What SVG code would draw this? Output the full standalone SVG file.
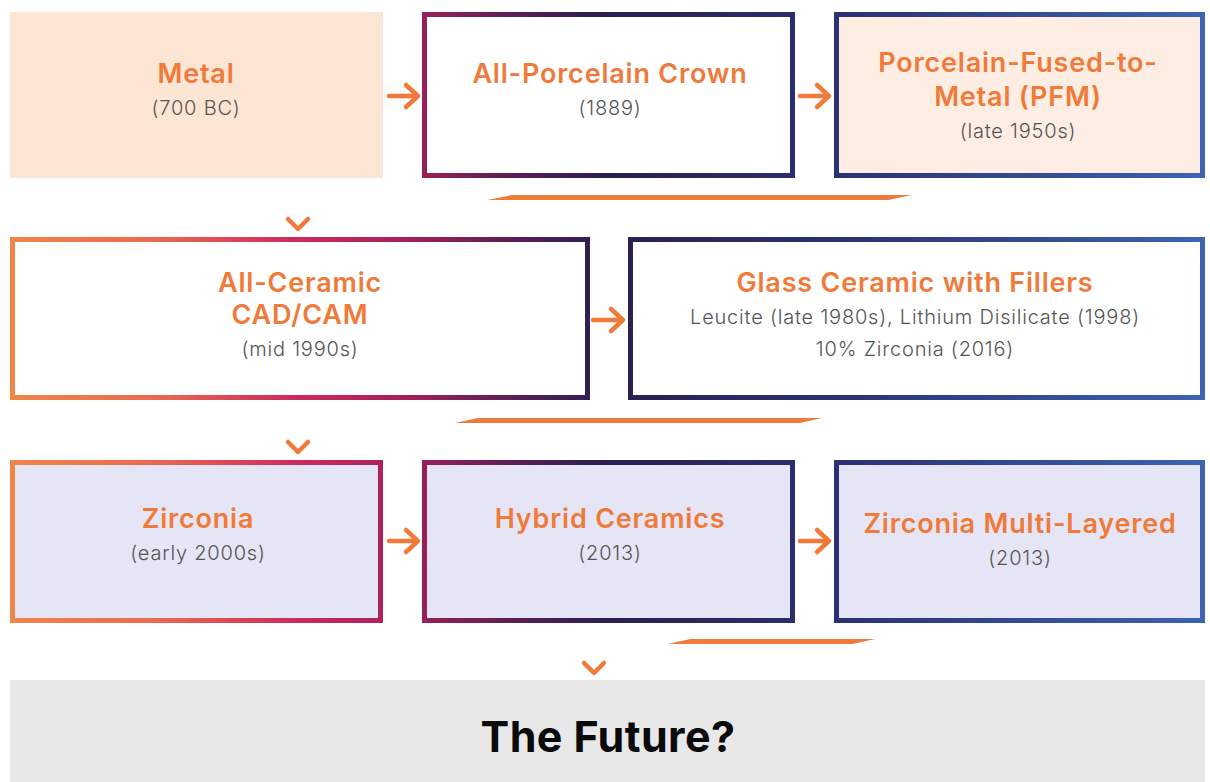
<svg xmlns="http://www.w3.org/2000/svg" width="1210" height="782" viewBox="0 0 1210 782">
<defs>
<linearGradient id="bg" gradientUnits="userSpaceOnUse" x1="10" y1="0" x2="1205" y2="0">
<stop offset="0" stop-color="#f08549"/>
<stop offset="0.12" stop-color="#ea6a50"/>
<stop offset="0.24" stop-color="#cc2a5e"/>
<stop offset="0.33" stop-color="#a6205a"/>
<stop offset="0.42" stop-color="#5a1f55"/>
<stop offset="0.5" stop-color="#2a1f50"/>
<stop offset="0.7" stop-color="#2b3275"/>
<stop offset="1" stop-color="#3d63b2"/>
</linearGradient>
</defs>
<style>
.box{stroke:url(#bg);stroke-width:5}
.t{font-family:Inter,"Noto Sans",sans-serif;font-size:27px;font-weight:600;fill:#f07a3a;text-anchor:middle;letter-spacing:0.8px}
.s{font-family:Inter,"Noto Sans",sans-serif;font-size:20px;font-weight:300;fill:#555555;text-anchor:middle;letter-spacing:0.8px}
.arr{fill:none;stroke:#f07a3a;stroke-width:4.5;stroke-linecap:round;stroke-linejoin:round}
.bar{fill:#f07a3a}
</style>
<rect width="1210" height="782" fill="#ffffff"/>
<g id="connectors">
<path class="arr" d="M389,96 L417,96 M406,85 L418,96 L406,107"/>
<path class="arr" d="M800,96 L828,96 M817,85 L829,96 L817,107"/>
<path class="arr" d="M593,320 L622,320 M611,309 L623,320 L611,331"/>
<path class="arr" d="M389,541 L417,541 M406,530 L418,541 L406,552"/>
<path class="arr" d="M800,541 L828,541 M817,530 L829,541 L817,552"/>
<polygon class="bar" points="487,200 512,195 912,195 888,200"/>
<polygon class="bar" points="455,423 478,418 822,418 800,423"/>
<polygon class="bar" points="668,644 690,639 875,639 853,644"/>
<path class="arr" d="M288,219 L298,229 L308,219"/>
<path class="arr" d="M288,442 L298,452 L308,442"/>
<path class="arr" d="M584,663 L594,673 L604,663"/>
</g>
<g id="metal">
<rect x="10" y="12" width="373" height="166" fill="#fde5d4"/>
<text class="t" x="196" y="83">Metal</text>
<text class="s" x="196" y="115">(700 BC)</text>
</g>
<g id="all-porcelain">
<rect class="box" x="424.500" y="14.500" width="368" height="161" fill="#ffffff"/>
<text class="t" x="610" y="83">All-Porcelain Crown</text>
<text class="s" x="610" y="115">(1889)</text>
</g>
<g id="pfm">
<rect class="box" x="836.500" y="14.500" width="366" height="161" fill="#fdede2"/>
<text class="t" x="1018" y="72">Porcelain-Fused-to-</text>
<text class="t" x="1018" y="106">Metal (PFM)</text>
<text class="s" x="1018" y="138">(late 1950s)</text>
</g>
<g id="cadcam">
<rect class="box" x="12.500" y="239.500" width="575" height="158" fill="#ffffff"/>
<text class="t" x="300" y="292">All-Ceramic</text>
<text class="t" x="300" y="324">CAD/CAM</text>
<text class="s" x="300" y="356">(mid 1990s)</text>
</g>
<g id="glass-ceramic">
<rect class="box" x="630.500" y="239.500" width="572" height="158" fill="#ffffff"/>
<text class="t" x="915" y="292">Glass Ceramic with Fillers</text>
<text class="s" x="915" y="324">Leucite (late 1980s), Lithium Disilicate (1998)</text>
<text class="s" x="915" y="356">10% Zirconia (2016)</text>
</g>
<g id="zirconia">
<rect class="box" x="12.500" y="462.500" width="368" height="158" fill="#e5e5f5"/>
<text class="t" x="198" y="528">Zirconia</text>
<text class="s" x="198" y="560">(early 2000s)</text>
</g>
<g id="hybrid">
<rect class="box" x="424.500" y="462.500" width="368" height="158" fill="#e5e5f5"/>
<text class="t" x="610" y="528">Hybrid Ceramics</text>
<text class="s" x="610" y="560">(2013)</text>
</g>
<g id="multilayer">
<rect class="box" x="836.500" y="462.500" width="366" height="158" fill="#e5e5f5"/>
<text class="t" x="1020" y="533">Zirconia Multi-Layered</text>
<text class="s" x="1020" y="565">(2013)</text>
</g>
<g id="future">
<rect x="10" y="680" width="1195" height="102" fill="#e8e8e8"/>
<text x="608" y="752" font-family="Inter,'Noto Sans',sans-serif" font-size="43" font-weight="700" fill="#0a0a0a" text-anchor="middle" letter-spacing="0.4">The Future?</text>
</g>
</svg>
